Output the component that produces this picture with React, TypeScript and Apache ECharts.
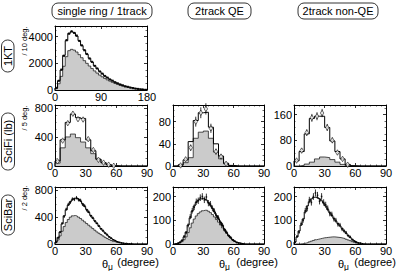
import React, { useEffect, useRef } from 'react';
import * as echarts from 'echarts';

// ---------- data ----------
const ktBin = 5; // deg
const ktOpen = [150, 700, 1500, 2600, 3700, 4250, 4380, 4300, 4050, 3700, 3330, 3000, 2680, 2380, 2100, 1830, 1600, 1400, 1220, 1060, 920, 800, 690, 590, 500, 420, 350, 285, 230, 180, 140, 105, 75, 50, 30, 15];
const ktQE = [100, 470, 1020, 1780, 2500, 2950, 3050, 2990, 2850, 2650, 2420, 2200, 2000, 1800, 1610, 1430, 1270, 1120, 990, 870, 760, 665, 575, 495, 420, 355, 295, 240, 195, 153, 119, 90, 65, 44, 26, 13];
const ktData = [160, 690, 1530, 2560, 3740, 4220, 4400, 4280, 4080, 3680, 3350, 2980, 2700, 2360, 2110, 1810, 1620, 1390, 1230, 1050, 930, 790, 700, 580, 505, 415, 355, 280, 235, 175, 142, 100, 78, 48, 32, 14];

const sfBin = 5; // deg
const sfOpen1 = [70, 360, 600, 715, 665, 655, 360, 210, 95, 45, 18, 5, 0, 0, 0, 0, 0, 0];
const sfQE1 = [40, 250, 400, 440, 390, 330, 250, 170, 90, 45, 18, 5, 0, 0, 0, 0, 0, 0];
const sfData1 = [65, 350, 590, 720, 645, 640, 370, 220, 85, 46, 18, 3, 0, 0, 0, 0, 0, 0];
const sfOpen2 = [0, 2, 11, 44, 82, 96, 97, 70, 40, 18, 5, 1, 0, 0, 0, 0, 0, 0];
const sfQE2 = [0, 1, 6, 15, 50, 61, 63, 50, 25, 13, 4, 1, 0, 0, 0, 0, 0, 0];
const sfData2 = [0, 1, 12, 33, 80, 96, 103, 68, 26, 17, 4, 0, 0, 0, 0, 0, 0, 0];
const sfOpen3 = [16, 45, 100, 148, 155, 155, 120, 78, 45, 22, 5, 1, 0, 0, 0, 0, 0, 0];
const sfQE3 = [0, 2, 6, 12, 22, 28, 26, 20, 12, 5, 1, 0, 0, 0, 0, 0, 0, 0];
const sfData3 = [17, 48, 104, 150, 155, 165, 120, 80, 42, 22, 4, 0, 0, 0, 0, 0, 0, 0];

const sbBin = 2; // deg
const sbOpen1 = [30, 90, 180, 300, 420, 510, 580, 630, 660, 680, 685, 670, 640, 600, 560, 515, 470, 425, 385, 345, 305, 265, 230, 195, 165, 135, 108, 85, 65, 48, 35, 24, 16, 10, 6, 3, 2, 1, 0, 0, 0, 0, 0, 0, 0];
const sbQE1 = [20, 60, 120, 190, 260, 320, 365, 400, 420, 425, 415, 400, 380, 355, 330, 305, 280, 255, 230, 205, 180, 160, 140, 120, 100, 82, 66, 52, 40, 30, 22, 15, 10, 6, 4, 2, 1, 0, 0, 0, 0, 0, 0, 0, 0];
const sbData1 = [28, 95, 175, 310, 410, 520, 590, 620, 670, 665, 690, 660, 650, 590, 570, 505, 480, 420, 390, 340, 310, 270, 225, 200, 160, 140, 105, 88, 62, 50, 33, 25, 15, 11, 5, 4, 2, 1, 0, 0, 0, 0, 0, 0, 0];
const sbOpen2 = [0, 1, 3, 8, 16, 30, 50, 80, 110, 138, 160, 175, 185, 190, 192, 190, 185, 175, 163, 150, 135, 120, 106, 92, 78, 62, 48, 36, 26, 18, 11, 7, 4, 2, 1, 0, 0, 0, 0, 0, 0, 0, 0, 0, 0];
const sbQE2 = [0, 0, 2, 5, 10, 18, 30, 48, 68, 88, 105, 118, 128, 135, 140, 142, 142, 138, 132, 124, 114, 103, 92, 80, 68, 56, 45, 35, 26, 18, 12, 8, 5, 3, 1, 0, 0, 0, 0, 0, 0, 0, 0, 0, 0];
const sbData2 = [0, 1, 4, 7, 15, 32, 48, 78, 115, 140, 155, 178, 182, 195, 200, 186, 198, 172, 168, 150, 138, 118, 110, 90, 80, 60, 50, 35, 28, 17, 12, 6, 4, 2, 1, 0, 0, 0, 0, 0, 0, 0, 0, 0, 0];
const sbOpen3 = [8, 30, 55, 80, 105, 135, 160, 178, 190, 196, 198, 195, 190, 182, 172, 160, 145, 132, 120, 108, 96, 86, 76, 66, 55, 45, 36, 27, 20, 13, 8, 5, 3, 1, 0, 0, 0, 0, 0, 0, 0, 0, 0, 0, 0];
const sbQE3 = [0, 0, 0, 1, 2, 4, 6, 9, 12, 15, 18, 20, 22, 24, 26, 27, 28, 29, 30, 30, 29, 28, 27, 25, 23, 20, 17, 14, 10, 7, 4, 2, 1, 0, 0, 0, 0, 0, 0, 0, 0, 0, 0, 0, 0];
const sbData3 = [8, 32, 50, 85, 100, 140, 150, 185, 175, 200, 215, 205, 180, 200, 175, 165, 150, 128, 125, 105, 100, 82, 80, 62, 55, 48, 35, 30, 18, 12, 8, 4, 3, 1, 0, 0, 0, 0, 0, 0, 0, 0, 0, 0, 0];

const colTitles = ['single ring / 1track', '2track QE', '2track non-QE'];
const rowTitles = ['1KT', 'SciFi (lb)', 'SciBar'];
const unitTitles = ['/ 10 deg.', '/ 5 deg.', '/ 2 deg.'];

// ---------- layout ----------
const FONT = "'Liberation Sans', Arial, Helvetica, sans-serif";
const COLS = [55, 173, 294];
const COLW = [92, 91, 92];
const ROWS = [
  { top: 26, height: 64 },
  { top: 105, height: 61 },
  { top: 187, height: 57 },
];

type Panel = {
  col: number; row: number; bin: number;
  xMax: number; xInt: number; xMinor: number;
  yMax: number; yInt: number; yMinor: number;
  open: number[]; qe: number[]; data: number[];
  marker: 'dot' | 'diamond' | 'small';
};

const panels: Panel[] = [
  { col: 0, row: 0, bin: ktBin, xMax: 180, xInt: 90, xMinor: 9, yMax: 4800, yInt: 2000, yMinor: 4, open: ktOpen, qe: ktQE, data: ktData, marker: 'dot' },
  { col: 0, row: 1, bin: sfBin, xMax: 90, xInt: 30, xMinor: 6, yMax: 840, yInt: 400, yMinor: 4, open: sfOpen1, qe: sfQE1, data: sfData1, marker: 'diamond' },
  { col: 1, row: 1, bin: sfBin, xMax: 90, xInt: 30, xMinor: 6, yMax: 110, yInt: 40, yMinor: 4, open: sfOpen2, qe: sfQE2, data: sfData2, marker: 'diamond' },
  { col: 2, row: 1, bin: sfBin, xMax: 90, xInt: 30, xMinor: 6, yMax: 190, yInt: 80, yMinor: 4, open: sfOpen3, qe: sfQE3, data: sfData3, marker: 'diamond' },
  { col: 0, row: 2, bin: sbBin, xMax: 90, xInt: 30, xMinor: 6, yMax: 850, yInt: 400, yMinor: 4, open: sbOpen1, qe: sbQE1, data: sbData1, marker: 'small' },
  { col: 1, row: 2, bin: sbBin, xMax: 90, xInt: 30, xMinor: 6, yMax: 240, yInt: 100, yMinor: 5, open: sbOpen2, qe: sbQE2, data: sbData2, marker: 'small' },
  { col: 2, row: 2, bin: sbBin, xMax: 90, xInt: 30, xMinor: 6, yMax: 240, yInt: 100, yMinor: 5, open: sbOpen3, qe: sbQE3, data: sbData3, marker: 'small' },
];

function histLine(vals: number[], w: number) {
  const pts: number[][] = [[0, 0]];
  vals.forEach((v, i) => {
    pts.push([i * w, v]);
    pts.push([(i + 1) * w, v]);
  });
  pts.push([vals.length * w, 0]);
  return pts;
}

function buildOption() {
  const grid: any[] = [];
  const xAxis: any[] = [];
  const yAxis: any[] = [];
  const series: any[] = [];
  const lineBlack = { color: '#000', width: 1 };
  panels.forEach((p, gi) => {
    grid.push({ left: COLS[p.col], top: ROWS[p.row].top, width: COLW[p.col], height: ROWS[p.row].height, containLabel: false });
    const base = {
      gridIndex: gi, type: 'value', min: 0,
      axisLine: { show: true, onZero: false, lineStyle: lineBlack },
      splitLine: { show: false },
      axisTick: { show: true, inside: true, length: 3, lineStyle: { color: '#000', width: 0.8 } },
    };
    const lbl = { color: '#000', fontSize: 11, fontFamily: FONT };
    xAxis.push({
      ...base, position: 'bottom', max: p.xMax, interval: p.xInt,
      minorTick: { show: true, splitNumber: p.xMinor, length: 1.5, lineStyle: { color: '#000', width: 0.6 } },
      axisLabel: { ...lbl, margin: 1 },
    });
    xAxis.push({
      ...base, position: 'top', max: p.xMax, interval: p.xInt,
      minorTick: { show: true, splitNumber: p.xMinor, length: 1.5, lineStyle: { color: '#000', width: 0.6 } },
      axisLabel: { show: false },
    });
    const yi = p.yInt;
    yAxis.push({
      ...base, position: 'left', max: p.yMax, interval: p.yInt,
      minorTick: { show: true, splitNumber: p.yMinor, length: 1.5, lineStyle: { color: '#000', width: 0.6 } },
      axisLabel: { ...lbl, margin: 2, formatter: (v: number) => (Math.abs(v / yi - Math.round(v / yi)) < 1e-6 ? String(v) : '') },
    });
    yAxis.push({
      ...base, position: 'right', max: p.yMax, interval: p.yInt,
      minorTick: { show: true, splitNumber: p.yMinor, length: 1.5, lineStyle: { color: '#000', width: 0.6 } },
      axisLabel: { show: false },
    });
    const xi = gi * 2;
    const yIdx = gi * 2;
    series.push({
      type: 'line', xAxisIndex: xi, yAxisIndex: yIdx, data: histLine(p.qe, p.bin),
      showSymbol: false, symbol: 'none', lineStyle: { color: '#222', width: 0.8 },
      areaStyle: { color: '#cbcbcb', opacity: 1 }, z: 2, silent: true,
    });
    series.push({
      type: 'line', xAxisIndex: xi, yAxisIndex: yIdx, data: histLine(p.open, p.bin),
      showSymbol: false, symbol: 'none', lineStyle: { color: '#000', width: 1 }, z: 3, silent: true,
    });
    const pts = p.data
      .map((v, i) => [i * p.bin + p.bin / 2, v, Math.sqrt(v)])
      .filter((d) => d[1] > 0);
    series.push({
      type: 'custom', xAxisIndex: xi, yAxisIndex: yIdx, data: pts, z: 4, silent: true,
      encode: { x: 0, y: 1 },
      renderItem: (_params: any, api: any) => {
        const x = api.value(0);
        const y = api.value(1);
        const e = api.value(2);
        const a = api.coord([x, y - e]);
        const b = api.coord([x, y + e]);
        return { type: 'line', shape: { x1: a[0], y1: a[1], x2: b[0], y2: b[1] }, style: { stroke: '#000', lineWidth: 0.8 } };
      },
    });
    let sym: any = { symbol: 'rect', symbolSize: 2.2, itemStyle: { color: '#000' } };
    if (p.marker === 'diamond') sym = { symbol: 'diamond', symbolSize: [3.5, 5.5], itemStyle: { color: '#fff', borderColor: '#000', borderWidth: 0.7 } };
    if (p.marker === 'small') sym = { symbol: 'rect', symbolSize: 1.6, itemStyle: { color: '#000' } };
    series.push({
      type: 'scatter', xAxisIndex: xi, yAxisIndex: yIdx, data: pts.map((d) => [d[0], d[1]]), z: 5, silent: true, ...sym,
    });
  });

  const boxStyle = { fill: 'none', stroke: '#000', lineWidth: 0.8 };
  const txt = (x: number, y: number, text: string, size: number, rotation = 0, align = 'center') => ({
    type: 'text', x, y, rotation, silent: true,
    style: { text, fontSize: size, fontFamily: FONT, fill: '#000', align, verticalAlign: 'middle' },
  });
  const graphic: any[] = [
    { type: 'rect', shape: { x: 52, y: 3, width: 100, height: 16, r: 6 }, style: boxStyle },
    txt(102, 11, colTitles[0], 11),
    { type: 'rect', shape: { x: 188, y: 3, width: 63, height: 16, r: 6 }, style: boxStyle },
    txt(219.5, 11, colTitles[1], 11),
    { type: 'rect', shape: { x: 298, y: 3, width: 80, height: 16, r: 6 }, style: boxStyle },
    txt(338, 11, colTitles[2], 11),
    { type: 'rect', shape: { x: 1.5, y: 40, width: 12.5, height: 32, r: 6 }, style: boxStyle },
    txt(8, 56, rowTitles[0], 11, Math.PI / 2),
    { type: 'rect', shape: { x: 1.5, y: 113, width: 13, height: 57, r: 6 }, style: boxStyle },
    txt(8, 141.5, rowTitles[1], 11, Math.PI / 2),
    { type: 'rect', shape: { x: 1.5, y: 195, width: 13, height: 40, r: 6 }, style: boxStyle },
    txt(8, 215, rowTitles[2], 11, Math.PI / 2),
    txt(24, 41, unitTitles[0], 7.5, Math.PI / 2),
    txt(24, 118, unitTitles[1], 7.5, Math.PI / 2),
    txt(24, 198, unitTitles[2], 7.5, Math.PI / 2),
  ];
  const thetaX = [105, 222, 341];
  const degX = [138, 257, 375];
  thetaX.forEach((tx, i) => {
    graphic.push(txt(tx, 264, 'θ', 11));
    graphic.push(txt(tx + 5.5, 266.5, 'μ', 8.5));
    graphic.push(txt(degX[i], 262, '(degree)', 11));
  });

  return { animation: false, backgroundColor: '#fff', grid, xAxis, yAxis, series, graphic };
}

export default function App() {
  const ref = useRef<HTMLDivElement>(null);
  useEffect(() => {
    if (!ref.current) return;
    const chart = echarts.init(ref.current, undefined, { renderer: 'svg' });
    chart.setOption(buildOption() as any);
    return () => chart.dispose();
  }, []);
  return <div ref={ref} style={{ position: 'absolute', left: 0, top: 0, width: 396, height: 271 }} />;
}
